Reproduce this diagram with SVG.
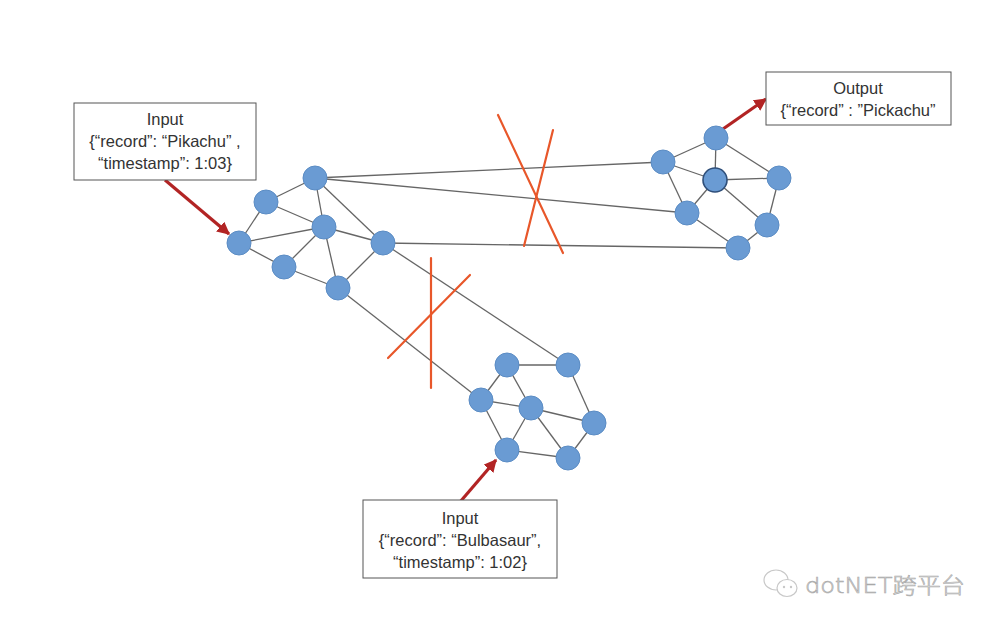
<svg xmlns="http://www.w3.org/2000/svg" width="1000" height="628" viewBox="0 0 1000 628">
<defs>
<style>
.node{fill:#6a9bd3;stroke:#5b8cc4;stroke-width:1}
.edge{stroke:#666;stroke-width:1.3;fill:none}
.box{fill:#fff;stroke:#555;stroke-width:1}
.t{font-family:"Liberation Sans",Arial,sans-serif;font-size:16.5px;fill:#333;text-anchor:middle}
.x{stroke:#e8572a;stroke-width:2.2;fill:none;stroke-linecap:round}
.arr{stroke:#b22424;stroke-width:3.2;fill:none}
.wm{font-family:"DejaVu Sans","Noto Sans CJK SC",sans-serif;font-size:22px;font-weight:200;fill:#e4e4e4;stroke:#a8a8a8;stroke-width:0.6}
</style>
<marker id="ah" viewBox="0 0 10 10" refX="9" refY="5" markerWidth="4" markerHeight="4" orient="auto" markerUnits="strokeWidth">
<path d="M0,0 L10,5 L0,10 z" fill="#b22424"/>
</marker>
</defs>
<rect width="1000" height="628" fill="#fff"/>
<g id="connectors">
<line class="edge" x1="315" y1="178" x2="266" y2="202"/>
<line class="edge" x1="315" y1="178" x2="324" y2="227"/>
<line class="edge" x1="315" y1="178" x2="383" y2="243"/>
<line class="edge" x1="266" y1="202" x2="324" y2="227"/>
<line class="edge" x1="266" y1="202" x2="239" y2="243"/>
<line class="edge" x1="239" y1="243" x2="324" y2="227"/>
<line class="edge" x1="239" y1="243" x2="284" y2="267"/>
<line class="edge" x1="324" y1="227" x2="383" y2="243"/>
<line class="edge" x1="324" y1="227" x2="284" y2="267"/>
<line class="edge" x1="324" y1="227" x2="338" y2="288"/>
<line class="edge" x1="284" y1="267" x2="338" y2="288"/>
<line class="edge" x1="338" y1="288" x2="383" y2="243"/>
<line class="edge" x1="315" y1="178" x2="663" y2="162"/>
<line class="edge" x1="315" y1="178" x2="687" y2="213"/>
<line class="edge" x1="383" y1="243" x2="738" y2="248"/>
<line class="edge" x1="383" y1="243" x2="568" y2="365"/>
<line class="edge" x1="338" y1="288" x2="481" y2="400"/>
<line class="edge" x1="716" y1="138" x2="663" y2="162"/>
<line class="edge" x1="716" y1="138" x2="715" y2="180"/>
<line class="edge" x1="716" y1="138" x2="779" y2="178"/>
<line class="edge" x1="663" y1="162" x2="715" y2="180"/>
<line class="edge" x1="663" y1="162" x2="687" y2="213"/>
<line class="edge" x1="715" y1="180" x2="779" y2="178"/>
<line class="edge" x1="715" y1="180" x2="687" y2="213"/>
<line class="edge" x1="715" y1="180" x2="767" y2="225"/>
<line class="edge" x1="779" y1="178" x2="767" y2="225"/>
<line class="edge" x1="767" y1="225" x2="738" y2="248"/>
<line class="edge" x1="687" y1="213" x2="738" y2="248"/>
<line class="edge" x1="507" y1="365" x2="568" y2="365"/>
<line class="edge" x1="507" y1="365" x2="481" y2="400"/>
<line class="edge" x1="507" y1="365" x2="531" y2="408"/>
<line class="edge" x1="481" y1="400" x2="531" y2="408"/>
<line class="edge" x1="481" y1="400" x2="507" y2="450"/>
<line class="edge" x1="531" y1="408" x2="594" y2="423"/>
<line class="edge" x1="531" y1="408" x2="507" y2="450"/>
<line class="edge" x1="531" y1="408" x2="568" y2="458"/>
<line class="edge" x1="568" y1="365" x2="594" y2="423"/>
<line class="edge" x1="594" y1="423" x2="568" y2="458"/>
<line class="edge" x1="507" y1="450" x2="568" y2="458"/>
<line class="arr" x1="165" y1="180" x2="229" y2="234" marker-end="url(#ah)"/>
<line class="arr" x1="723" y1="129" x2="766" y2="99" marker-end="url(#ah)"/>
<line class="arr" x1="460" y1="502" x2="496" y2="460" marker-end="url(#ah)"/>
</g>
<g id="cluster-a">
<circle id="a1" class="node" cx="315" cy="178" r="12"/>
<circle id="a2" class="node" cx="266" cy="202" r="12"/>
<circle id="a3" class="node" cx="324" cy="227" r="12"/>
<circle id="a4" class="node" cx="239" cy="243" r="12"/>
<circle id="a5" class="node" cx="383" cy="243" r="12"/>
<circle id="a6" class="node" cx="284" cy="267" r="12"/>
<circle id="a7" class="node" cx="338" cy="288" r="12"/>
</g>
<g id="cluster-b">
<circle id="b1" class="node" cx="716" cy="138" r="12"/>
<circle id="b2" class="node" cx="663" cy="162" r="12"/>
<circle id="b3" class="node" cx="715" cy="180" r="12" style="stroke:#2f4f7a;stroke-width:1.6"/>
<circle id="b4" class="node" cx="779" cy="178" r="12"/>
<circle id="b5" class="node" cx="687" cy="213" r="12"/>
<circle id="b6" class="node" cx="767" cy="225" r="12"/>
<circle id="b7" class="node" cx="738" cy="248" r="12"/>
</g>
<g id="cluster-c">
<circle id="c1" class="node" cx="507" cy="365" r="12"/>
<circle id="c2" class="node" cx="568" cy="365" r="12"/>
<circle id="c3" class="node" cx="481" cy="400" r="12"/>
<circle id="c4" class="node" cx="531" cy="408" r="12"/>
<circle id="c5" class="node" cx="594" cy="423" r="12"/>
<circle id="c6" class="node" cx="507" cy="450" r="12"/>
<circle id="c7" class="node" cx="568" cy="458" r="12"/>
</g>
<g id="cut-top">
<line class="x" x1="498" y1="115" x2="563" y2="253"/>
<line class="x" x1="553" y1="130" x2="524" y2="246"/>
</g>
<g id="cut-bottom">
<line class="x" x1="431" y1="258" x2="431" y2="388"/>
<line class="x" x1="388" y1="358" x2="470" y2="275"/>
</g>
<g id="input-pikachu">
<rect class="box" x="74" y="103" width="182" height="77"/>
<text class="t" x="165" y="125">Input</text>
<text class="t" x="165" y="147">{“record”: “Pikachu” ,</text>
<text class="t" x="165" y="169">“timestamp”: 1:03}</text>
</g>
<g id="output">
<rect class="box" x="766" y="72" width="185" height="53"/>
<text class="t" x="858" y="94">Output</text>
<text class="t" x="858" y="116">{“record” : ”Pickachu”</text>
</g>
<g id="input-bulbasaur">
<rect class="box" x="363" y="500" width="194" height="78"/>
<text class="t" x="460" y="524">Input</text>
<text class="t" x="460" y="546">{“record”: “Bulbasaur”,</text>
<text class="t" x="460" y="568">“timestamp”: 1:02}</text>
</g>
<g id="watermark">
<ellipse cx="776" cy="580" rx="12" ry="10" fill="none" stroke="#c8c8c8" stroke-width="1.2"/>
<ellipse cx="787" cy="588" rx="10" ry="8.5" fill="#fff" stroke="#c8c8c8" stroke-width="1.2"/>
<circle cx="784" cy="587" r="1.2" fill="#c8c8c8"/>
<circle cx="791" cy="587" r="1.2" fill="#c8c8c8"/>
<text class="wm" x="805" y="593" textLength="160" lengthAdjust="spacingAndGlyphs">dotNET跨平台</text>
</g>
</svg>
